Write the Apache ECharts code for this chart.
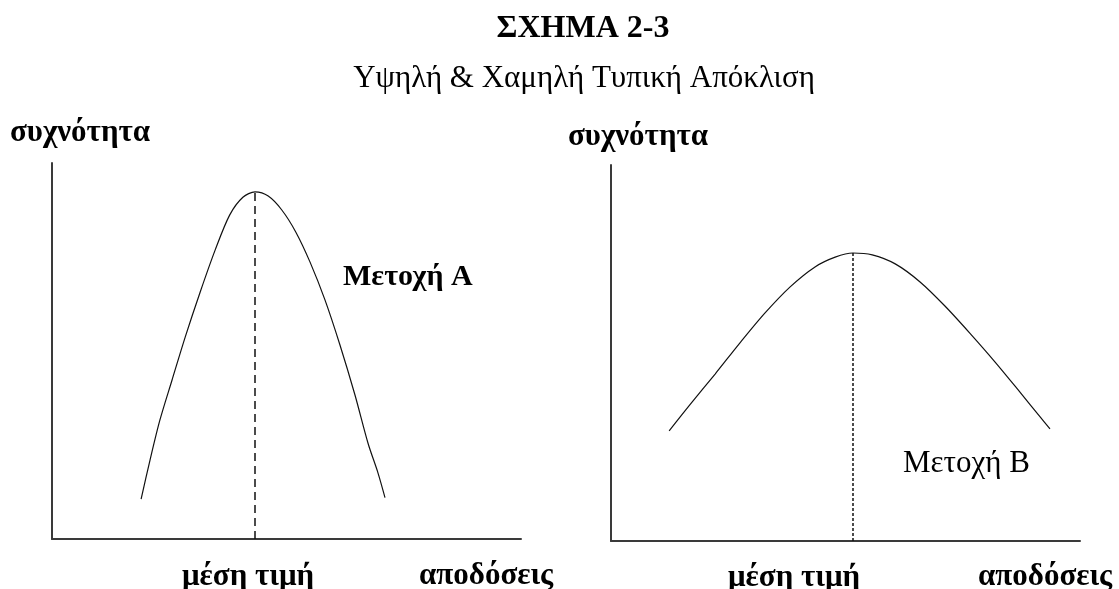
<!DOCTYPE html>
<html>
<head>
<meta charset="utf-8">
<title>ΣΧΗΜΑ 2-3</title>
<script src="https://cdn.jsdelivr.net/npm/echarts@6/dist/echarts.min.js"></script>
<style>
  html, body { margin: 0; padding: 0; background: #ffffff; }
  #chart { width: 1119px; height: 589px; }
</style>
</head>
<body>
<div id="chart"></div>
<script>
  // Μετοχή Α (υψηλή διασπορά) - αποδόσεις / συχνότητα
  const stockA_x = [19.0, 20.9, 23.0, 25.6, 28.4, 31.6, 34.8, 37.9, 40.7, 43.3, 46.1, 49.0, 52.0, 55.0, 58.2, 61.4, 64.6, 67.4, 69.5, 71.0]
  const stockA_y = [10.6, 21.0, 31.6, 42.3, 53.7, 65.7, 76.9, 86.2, 90.9, 92.3, 91.2, 87.5, 81.6, 73.7, 63.6, 51.6, 38.3, 25.4, 17.6, 11.0]
  // Μετοχή Β (χαμηλή διασπορά)
  const stockB_x = [12.4, 16.8, 22.2, 27.5, 32.8, 38.2, 43.5, 47.8, 51.6, 55.7, 60.6, 65.9, 71.2, 76.5, 81.9, 87.2, 91.5, 93.6]
  const stockB_y = [29.3, 36.2, 44.4, 52.7, 60.6, 67.6, 72.9, 75.5, 76.6, 76.1, 73.7, 68.9, 62.5, 55.3, 47.6, 39.6, 33.0, 29.8]

  const pairs = (xs, ys) => xs.map((x, i) => [x, ys[i]])
  const peak = (xs, ys) => {
    let k = ys.indexOf(Math.max(...ys))
    return [xs[k], ys[k]]
  }

  const serif = '"Liberation Serif", "DejaVu Serif", serif'
  const axisLineStyle = { color: '#3a3a3a', width: 2 }

  function makeAxes (idx) {
    let base = {
      type: 'value', gridIndex: idx, min: 0, max: 100,
      axisLine: { show: true, onZero: false, lineStyle: axisLineStyle },
      axisTick: { show: false }, axisLabel: { show: false }, splitLine: { show: false }
    }
    return { x: Object.assign({}, base), y: Object.assign({}, base) }
  }

  function curve (idx, xs, ys, dash) {
    let p = peak(xs, ys)
    return {
      type: 'line',
      xAxisIndex: idx,
      yAxisIndex: idx,
      data: pairs(xs, ys),
      smooth: 0.3,
      symbol: 'none',
      lineStyle: { color: '#111', width: 1.2 },
      silent: true,
      markLine: {
        silent: true,
        symbol: 'none',
        label: { show: false },
        lineStyle: { color: '#111', width: 1.5, type: dash },
        data: [[{ coord: [p[0], 0] }, { coord: [p[0], p[1]] }]]
      }
    }
  }

  const a0 = makeAxes(0)
  const a1 = makeAxes(1)

  // κείμενο: x,y = αριστερά / κέντρο γραμμής
  const txt = (x, y, text, size, bold, align) => ({
    type: 'text',
    x: x,
    y: y,
    silent: true,
    style: {
      text: text,
      fill: '#000',
      align: align || 'left',
      verticalAlign: 'middle',
      font: (bold ? 'bold ' : '') + size + 'px ' + serif
    }
  })

  const chart = echarts.init(document.getElementById('chart'))
  chart.setOption({
    backgroundColor: '#ffffff',
    animation: false,
    grid: [
      { left: 52, top: 163, width: 469, height: 376 },
      { left: 611, top: 165, width: 469, height: 376 }
    ],
    xAxis: [a0.x, a1.x],
    yAxis: [a0.y, a1.y],
    series: [
      curve(0, stockA_x, stockA_y, [8, 5]),
      curve(1, stockB_x, stockB_y, [3, 2])
    ],
    graphic: [
      txt(583, 29, 'ΣΧΗΜΑ 2-3', 32, true, 'center'),
      txt(584, 79, 'Υψηλή & Χαμηλή Τυπική Απόκλιση', 31, false, 'center'),
      txt(10, 133, 'συχνότητα', 31, true),
      txt(568, 137, 'συχνότητα', 31, true),
      txt(182, 577, 'μέση τιμή', 31, true),
      txt(728, 578, 'μέση τιμή', 31, true),
      txt(419, 576, 'αποδόσεις', 31, true),
      txt(978, 577, 'αποδόσεις', 31, true),
      txt(343, 277, 'Μετοχή Α', 30, true),
      txt(903, 464, 'Μετοχή Β', 31, false)
    ]
  })
</script>
</body>
</html>
